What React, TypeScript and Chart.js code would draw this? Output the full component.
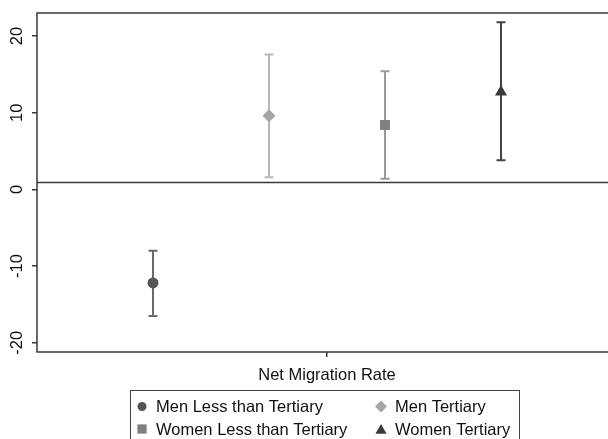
import React, { useEffect, useRef } from "react";
import { Chart, registerables } from "chart.js";

Chart.register(...registerables);

const groups = ["Men Less than Tertiary", "Men Tertiary", "Women Less than Tertiary", "Women Tertiary"];
const positions = [1, 2, 3, 4];
const estimates = [-12.2, 9.6, 8.4, 12.7];
const lowerCI = [-16.5, 1.6, 1.4, 3.8];
const upperCI = [-8.0, 17.6, 15.4, 21.8];
const markerStyles = ["circle", "rectRot", "rect", "triangle"];
const markerRadius = [5.5, 6.5, 7, 7];
const markerColors = ["#555555", "#a6a6a6", "#7f7f7f", "#3a3a3a"];
const barColors = ["#6a6a6a", "#b8b8b8", "#9a9a9a", "#444444"];
const yTicks = [-20, -10, 0, 10, 20];
const xTickLabel = "Net Migration Rate";
const xTickValue = 2.5;
const refLine = 0.9;

const FONT = "Arial, 'Liberation Sans', sans-serif";
const FSIZE = 16.5;

function drawMarker(ctx: any, style: string, r: number, x: number, y: number) {
  ctx.beginPath();
  if (style === "circle") {
    ctx.arc(x, y, r, 0, Math.PI * 2);
  } else if (style === "rect") {
    const s = r * Math.SQRT1_2;
    ctx.rect(x - s, y - s, 2 * s, 2 * s);
  } else if (style === "rectRot") {
    ctx.moveTo(x, y - r);
    ctx.lineTo(x + r, y);
    ctx.lineTo(x, y + r);
    ctx.lineTo(x - r, y);
    ctx.closePath();
  } else if (style === "triangle") {
    ctx.moveTo(x, y - r);
    ctx.lineTo(x + r * 0.866, y + r / 2);
    ctx.lineTo(x - r * 0.866, y + r / 2);
    ctx.closePath();
  }
  ctx.fill();
}

const customPlugin = {
  id: "customDraw",
  beforeDatasetsDraw(chart: any) {
    const ctx = chart.ctx;
    const xs = chart.scales.x;
    const ys = chart.scales.y;
    const ca = chart.chartArea;
    ctx.save();
    ctx.strokeStyle = "#3a3a3a";
    ctx.lineWidth = 1.5;
    const yr = ys.getPixelForValue(refLine);
    ctx.beginPath();
    ctx.moveTo(ca.left, yr);
    ctx.lineTo(ca.right, yr);
    ctx.stroke();
    positions.forEach((p, i) => {
      const x = xs.getPixelForValue(p);
      const y1 = ys.getPixelForValue(lowerCI[i]);
      const y2 = ys.getPixelForValue(upperCI[i]);
      ctx.strokeStyle = barColors[i];
      ctx.lineWidth = 2;
      ctx.beginPath();
      ctx.moveTo(x, y1);
      ctx.lineTo(x, y2);
      ctx.moveTo(x - 4.5, y1);
      ctx.lineTo(x + 4.5, y1);
      ctx.moveTo(x - 4.5, y2);
      ctx.lineTo(x + 4.5, y2);
      ctx.stroke();
    });
    ctx.restore();
  },
  afterDraw(chart: any) {
    const ctx = chart.ctx;
    const ys = chart.scales.y;
    const ca = chart.chartArea;
    ctx.save();
    ctx.strokeStyle = "#3a3a3a";
    ctx.lineWidth = 1.5;
    ctx.strokeRect(ca.left, ca.top, ca.right - ca.left, ca.bottom - ca.top);
    ctx.fillStyle = "#111111";
    ctx.font = FSIZE + "px " + FONT;
    ctx.textAlign = "center";
    ctx.textBaseline = "middle";
    yTicks.forEach((v) => {
      const y = ys.getPixelForValue(v);
      ctx.save();
      ctx.translate(17, y);
      ctx.rotate(-Math.PI / 2);
      ctx.fillText(String(v), 0, 0);
      ctx.restore();
    });
    // legend
    const lx = 130, ly = 390, lw = 389, lh = 60;
    ctx.strokeStyle = "#444444";
    ctx.lineWidth = 1;
    ctx.strokeRect(lx + 0.5, ly + 0.5, lw, lh);
    const cols = [142, 381];
    const rows = [406.5, 429];
    const legendRadius = [4.5, 6, 6.5, 6.5];
    chart.data.datasets.forEach((ds: any, k: number) => {
      const cx = cols[k % 2];
      const cy = rows[Math.floor(k / 2)];
      ctx.fillStyle = ds.pointBackgroundColor;
      const yOff = ds.pointStyle === "triangle" ? 1.5 : 0;
      drawMarker(ctx, ds.pointStyle, legendRadius[k], cx, cy + yOff);
      ctx.fillStyle = "#111111";
      ctx.textAlign = "left";
      ctx.textBaseline = "middle";
      ctx.font = FSIZE + "px " + FONT;
      ctx.fillText(ds.label, cx + 14, cy + 1);
    });
    ctx.restore();
  },
};

export default function App() {
  const ref = useRef<HTMLCanvasElement | null>(null);
  useEffect(() => {
    if (!ref.current) return;
    const chart = new Chart(ref.current, {
      type: "scatter",
      data: {
        datasets: groups.map((g, i) => ({
          label: g,
          data: [{ x: positions[i], y: estimates[i] }],
          pointStyle: markerStyles[i] as any,
          pointRadius: markerRadius[i],
          pointBackgroundColor: markerColors[i],
          pointBorderColor: markerColors[i],
          pointBorderWidth: 0,
        })),
      },
      options: {
        responsive: false,
        animation: false,
        devicePixelRatio: 1,
        layout: { padding: { left: 0, top: 13, right: 13, bottom: 0 } },
        plugins: { legend: { display: false }, tooltip: { enabled: false } },
        scales: {
          x: {
            type: "linear",
            min: 0,
            max: 5,
            afterBuildTicks: (s: any) => {
              s.ticks = [{ value: xTickValue }];
            },
            afterFit: (s: any) => {
              s.height = 87;
            },
            ticks: {
              callback: () => xTickLabel,
              color: "#111111",
              font: { family: FONT, size: FSIZE },
              padding: 9,
              maxRotation: 0,
            },
            grid: { drawOnChartArea: false, tickLength: 5, color: "#3a3a3a", lineWidth: 1.5 },
            border: { display: false },
          },
          y: {
            type: "linear",
            min: -21.2,
            max: 23,
            afterBuildTicks: (s: any) => {
              s.ticks = yTicks.map((v) => ({ value: v }));
            },
            afterFit: (s: any) => {
              s.width = 37;
            },
            ticks: { color: "rgba(0,0,0,0)", font: { family: FONT, size: FSIZE } },
            grid: { drawOnChartArea: false, tickLength: 5, color: "#3a3a3a", lineWidth: 1.5 },
            border: { display: false },
          },
        },
      },
      plugins: [customPlugin],
    });
    return () => chart.destroy();
  }, []);
  return (
    <div style={{ position: "fixed", left: 0, top: 0, width: 608, height: 439, overflow: "hidden", background: "#fff" }}>
      <canvas ref={ref} width={630} height={439} style={{ width: 630, height: 439, display: "block" }} />
    </div>
  );
}
